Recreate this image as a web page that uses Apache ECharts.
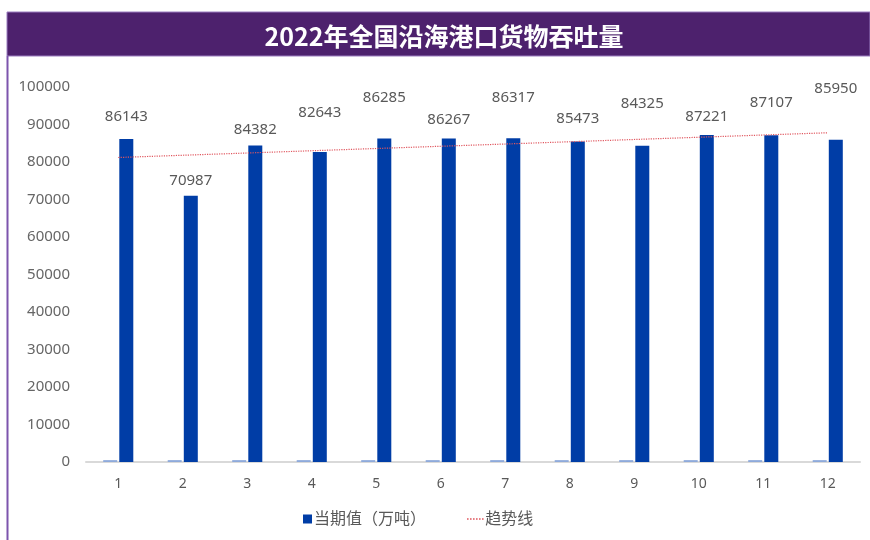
<!DOCTYPE html>
<html>
<head>
<meta charset="utf-8">
<script src="https://cdn.jsdelivr.net/npm/echarts@6/dist/echarts.min.js"></script>
<style>
  html, body { margin: 0; padding: 0; background: #ffffff; }
  #chart { width: 870px; height: 540px; }
</style>
</head>
<body>
<div id="chart"></div>
<script>
// -----------------------------------------------------------------------------
// 2022年全国沿海港口货物吞吐量 - barres mensuelles + tendance
// -----------------------------------------------------------------------------
const months = ["1", "2", "3", "4", "5", "6", "7", "8", "9", "10", "11", "12"];
const throughput = [86143, 70987, 84382, 82643, 86285, 86267, 86317, 85473, 84325, 87221, 87107, 85950];
const smallBars = [500, 500, 500, 500, 500, 500, 500, 500, 500, 500, 500, 500];
// tendance : debut (mois 1) et fin (mois 12)
const trendEnds = [81200, 87800];
const yTicks = { min: 0, max: 100000, step: 10000 };

// decalages verticaux des etiquettes (placement libre comme dans la source)
const labelShift = [-10, -3, -3, -27, -28, -6, -28, -10, -30, -6, -20, -38];

const FONT = '"Noto Sans", "Noto Sans CJK SC", sans-serif';
const trendData = months.map((m, i) => (i === 0 ? trendEnds[0] : i === months.length - 1 ? trendEnds[1] : null));

// icone pointillee pour la legende de la tendance
const dottedIcon = "path://" + [0, 3, 6, 9, 12, 15].map((x) => `M${x},0h1.6v1.6h-1.6z`).join("");

const chart = echarts.init(document.getElementById("chart"));

chart.setOption({
  animation: false,
  graphic: [
    { type: "rect", shape: { x: 7, y: 12, width: 863, height: 44 }, style: { fill: "#4d216d", stroke: "#9b7cc0", lineWidth: 1 } },
    { type: "line", shape: { x1: 7.5, y1: 56, x2: 7.5, y2: 540 }, style: { stroke: "#7d55ad", lineWidth: 2 } },
    {
      type: "text",
      style: {
        text: "2022年全国沿海港口货物吞吐量",
        x: 444, y: 36,
        align: "center", verticalAlign: "middle",
        fill: "#ffffff",
        font: 'bold 25px "Noto Sans CJK SC", sans-serif'
      }
    }
  ],
  grid: { left: 86, right: 10, top: 87, bottom: 78 },
  legend: [
    {
      left: 298, top: 506,
      itemWidth: 9, itemHeight: 9, itemGap: 4,
      data: [{ name: "当期值（万吨）", icon: "rect" }],
      textStyle: { color: "#595959", fontSize: 16, fontFamily: FONT, padding: [0, 0, 0, -3] }
    },
    {
      left: 462, top: 506,
      itemWidth: 18, itemHeight: 1.6,
      data: [{ name: "趋势线", icon: dottedIcon }],
      itemStyle: { color: "#e0575f" },
      textStyle: { color: "#595959", fontSize: 16, fontFamily: FONT, padding: [0, 0, 0, -4] }
    }
  ],
  xAxis: {
    type: "category",
    data: months,
    axisTick: { show: false },
    axisLine: { lineStyle: { color: "#d9d9d9", width: 2 } },
    axisLabel: { color: "#595959", fontSize: 14, fontFamily: FONT, margin: 15 }
  },
  yAxis: {
    type: "value",
    min: yTicks.min,
    max: yTicks.max,
    interval: yTicks.step,
    splitLine: { show: false },
    axisLine: { show: false },
    axisTick: { show: false },
    axisLabel: { color: "#666666", fontSize: 15, fontFamily: FONT, margin: 16, formatter: (v) => String(v) }
  },
  series: [
    {
      name: "small",
      type: "bar",
      data: smallBars,
      barWidth: 14,
      barGap: "15%",
      itemStyle: { color: "#8eaadb" }
    },
    {
      name: "当期值（万吨）",
      type: "bar",
      data: throughput.map((v, i) => ({
        value: v,
        label: { offset: [0, labelShift[i]] }
      })),
      barWidth: 14,
      barGap: "15%",
      itemStyle: { color: "#003da6" },
      label: {
        show: true,
        position: "top",
        distance: 5,
        color: "#595959",
        fontSize: 15,
        fontFamily: FONT
      }
    },
    {
      name: "趋势线",
      type: "line",
      data: trendData,
      connectNulls: true,
      symbol: "none",
      z: 5,
      itemStyle: { color: "#e0575f" },
      lineStyle: { color: "#e0575f", width: 1.2, type: "dotted" }
    }
  ]
});
</script>
</body>
</html>
